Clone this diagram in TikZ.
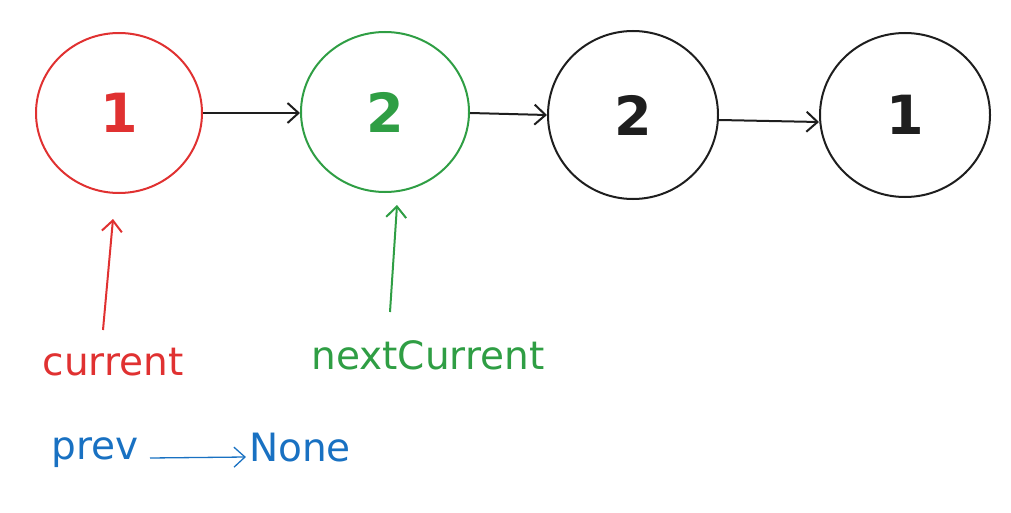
\documentclass[tikz,border=0pt]{standalone}
\usepackage{fontspec}
\setmainfont{DejaVu Sans}
\usetikzlibrary{arrows.meta,shapes.geometric}
\definecolor{exred}{HTML}{E03131}
\definecolor{exgreen}{HTML}{2F9E44}
\definecolor{exblue}{HTML}{1971C2}
\definecolor{exblack}{HTML}{1E1E1E}
\begin{document}
\begin{tikzpicture}[x=1pt,y=-1pt,
  listnode/.style={draw=#1,line width=2pt,ellipse,inner sep=0pt,
     text=#1,font=\fontsize{54}{54}\selectfont\bfseries},
  conn/.style={draw=#1,line width=2pt,-{Straight Barb[length=11pt,width=20pt]}},
  lbl/.style={text=#1,font=\fontsize{39}{39}\selectfont,inner sep=0pt}]
\useasboundingbox (0,0) rectangle (1011,513);
\node[listnode=exred,minimum width=166pt,minimum height=160pt] (n1) at (119,113) {1};
\node[listnode=exgreen,minimum width=168pt,minimum height=160pt] (n2) at (385,112) {2};
\node[listnode=exblack,minimum width=170pt,minimum height=168pt] (n3) at (633,115) {2};
\node[listnode=exblack,minimum width=170pt,minimum height=164pt] (n4) at (905,115) {1};
\draw[conn=exblack] (n1.east |- 0,113) -- (n2.west |- 0,113);
\draw[conn=exblack] (n2.east |- 0,113) -- (n3.west |- 0,115);
\draw[conn=exblack] (n3.east |- 0,120) -- (n4.west |- 0,122);
\node[lbl=exred] (cur) at (113,362) {current};
\node[lbl=exgreen] (nxt) at (428,355) {nextCurrent};
\node[lbl=exblue] (prev) at (95,453) {prev};
\node[lbl=exblue] (none) at (300,448) {None};
\coordinate (r1) at (103,330);
\coordinate (r2) at (113,219);
\draw[conn=exred] (r1) -- (r2);
\coordinate (g1) at (390,312);
\coordinate (g2) at (397,205);
\draw[conn=exgreen] (g1) -- (g2);
\draw[conn=exblue,line width=1.3pt] (150,458) -- ([xshift=-3pt]none.west |- 0,457);
\end{tikzpicture}
\end{document}
